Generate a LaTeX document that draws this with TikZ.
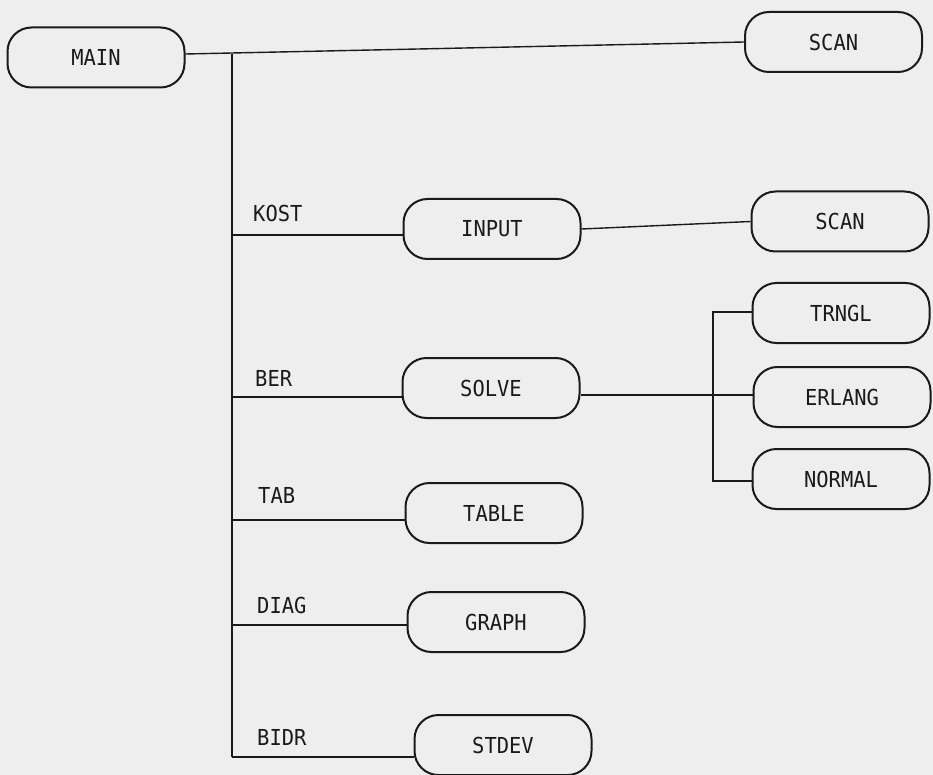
\documentclass[tikz,border=0pt]{standalone}
\usepackage{fontspec}
\setmonofont[FakeStretch=0.93]{DejaVu Sans Mono}
\definecolor{paper}{HTML}{EEEEEE}
\definecolor{ink}{HTML}{1A1A1A}
\begin{document}
\begin{tikzpicture}[x=1pt,y=-1pt,
  proc/.style={draw=ink, line width=2pt, rounded corners=24pt,
    minimum width=177pt, minimum height=60pt, inner sep=0pt,
    font=\ttfamily\fontsize{22}{24}\selectfont, text=ink},
  link/.style={draw=ink, line width=1.4pt},
  lab/.style={anchor=west, inner sep=0pt,
    font=\ttfamily\fontsize{22}{24}\selectfont, text=ink}]
\fill[paper] (0,0) rectangle (933,775);
\useasboundingbox (0,0) rectangle (933,775);

\node[proc] (main)   at (96,57.5)   {MAIN};
\node[proc] (scanA)  at (833.5,42)  {SCAN};
\node[proc] (input)  at (492,229)   {INPUT};
\node[proc] (scanB)  at (840,221.5) {SCAN};
\node[proc] (trngl)  at (841,313)   {TRNGL};
\node[proc] (erlang) at (842,397)   {ERLANG};
\node[proc] (normal) at (841,479)   {NORMAL};
\node[proc] (solve)  at (491,388)   {SOLVE};
\node[proc] (table)  at (494,513)   {TABLE};
\node[proc] (graph)  at (496,622)   {GRAPH};
\node[proc] (stdev)  at (503,745)   {STDEV};

\node[lab] (kost) at (253,213) {KOST};
\node[lab] (ber)  at (255,378) {BER};
\node[lab] (tab)  at (258,495) {TAB};
\node[lab] (diag) at (257,605) {DIAG};
\node[lab] (bidr) at (257,737) {BIDR};

\coordinate (top) at (232,54);
\coordinate (bk) at (232,235);
\coordinate (bb) at (232,397);
\coordinate (bt) at (232,520);
\coordinate (bd) at (232,625);
\coordinate (bs) at (232,757);
\coordinate (sy) at (713,395);
\coordinate (vt) at (713,312);
\coordinate (vb) at (713,481);

\draw[link] (main.east |- top) -- (scanA.west);
\draw[link] (top) -- (bs);
\draw[link] (bk) -- (input.west |- bk);
\draw[link] (bb) -- (solve.west |- bb);
\draw[link] (bt) -- (table.west |- bt);
\draw[link] (bd) -- (graph.west |- bd);
\draw[link] (bs) -- (stdev.west |- bs);
\draw[link] (input.east) -- (scanB.west);
\draw[link] (solve.east |- sy) -- (erlang.west |- sy);
\draw[link] (trngl.west |- vt) -- (vt) -- (vb) -- (normal.west |- vb);
\end{tikzpicture}
\end{document}
